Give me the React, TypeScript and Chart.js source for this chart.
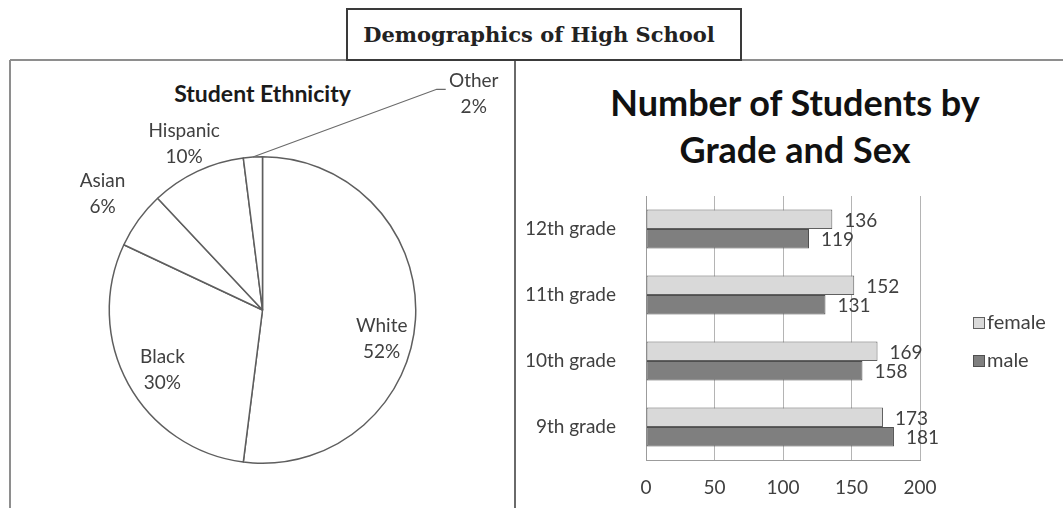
import React, { useEffect, useRef } from 'react';
import { Chart, registerables } from 'chart.js';

Chart.register(...registerables);

// Pie: student ethnicity (percent)
const ethnicities = ['White', 'Black', 'Asian', 'Hispanic', 'Other'];
const ethnicityShares = [52, 30, 6, 10, 2];

// Bars: number of students, top row first
const grades = ['12th grade', '11th grade', '10th grade', '9th grade'];
const femaleCounts = [136, 152, 169, 173];
const maleCounts = [119, 131, 158, 181];
const countTicks = [0, 50, 100, 150, 200];

const FONT = 'Lato, "Open Sans", sans-serif';
const TEXT = '#404040';

// where each pie label sits: radius factor and angle nudge (degrees) off the slice middle
const pieLabelSpots = [
  { r: 0.8, shift: 10, leader: false },
  { r: 0.76, shift: -2, leader: false },
  { r: 1.29, shift: 0, leader: false },
  { r: 1.2, shift: 0, leader: false },
  { r: 1.97, shift: 48, leader: true },
];

const pieLabelsPlugin = {
  id: 'pieLabels',
  afterDatasetsDraw(chart: any) {
    const { ctx } = chart;
    const meta = chart.getDatasetMeta(0);
    ctx.save();
    ctx.font = `19px ${FONT}`;
    ctx.fillStyle = TEXT;
    ctx.strokeStyle = '#6a6a6a';
    ctx.lineWidth = 1.2;
    ctx.textAlign = 'center';
    ctx.textBaseline = 'middle';
    meta.data.forEach((arc: any, i: number) => {
      const { x, y, startAngle, endAngle, outerRadius } = arc.getProps(
        ['x', 'y', 'startAngle', 'endAngle', 'outerRadius'],
        true
      );
      const spot = pieLabelSpots[i];
      const mid = (startAngle + endAngle) / 2;
      const a = mid + (spot.shift * Math.PI) / 180;
      const lx = x + Math.cos(a) * outerRadius * spot.r;
      const ly = y + Math.sin(a) * outerRadius * spot.r;
      if (spot.leader) {
        ctx.beginPath();
        ctx.moveTo(x + Math.cos(mid) * outerRadius, y + Math.sin(mid) * outerRadius);
        ctx.lineTo(lx - 37, ly - 5);
        ctx.lineTo(lx - 28, ly - 5);
        ctx.stroke();
      }
      ctx.fillText(chart.data.labels[i], lx, ly - 13);
      ctx.fillText(`${chart.data.datasets[0].data[i]}%`, lx, ly + 13);
    });
    ctx.restore();
  },
};

const barValuesPlugin = {
  id: 'barValues',
  afterDatasetsDraw(chart: any) {
    const { ctx } = chart;
    ctx.save();
    ctx.font = `19px ${FONT}`;
    ctx.fillStyle = TEXT;
    ctx.textAlign = 'left';
    ctx.textBaseline = 'middle';
    chart.data.datasets.forEach((ds: any, d: number) => {
      chart.getDatasetMeta(d).data.forEach((bar: any, i: number) => {
        ctx.fillText(String(ds.data[i]), bar.x + 12, bar.y + 1.5);
      });
    });
    ctx.restore();
  },
};

const sideLegendPlugin = {
  id: 'sideLegend',
  afterDraw(chart: any) {
    const { ctx, chartArea } = chart;
    const x = chartArea.right + 53;
    let y = (chartArea.top + chartArea.bottom) / 2 - 5;
    ctx.save();
    ctx.font = `20px ${FONT}`;
    ctx.textAlign = 'left';
    ctx.textBaseline = 'middle';
    chart.data.datasets.forEach((ds: any) => {
      ctx.fillStyle = ds.backgroundColor;
      ctx.fillRect(x, y - 6, 12, 12);
      ctx.strokeStyle = ds.borderColor;
      ctx.lineWidth = 1;
      ctx.strokeRect(x + 0.5, y - 5.5, 11, 11);
      ctx.fillStyle = TEXT;
      ctx.fillText(ds.label, x + 14, y);
      y += 38;
    });
    ctx.restore();
  },
};

const EthnicityPie: React.FC = () => {
  const canvasRef = useRef<HTMLCanvasElement>(null);

  useEffect(() => {
    if (!canvasRef.current) return;
    const chart = new Chart(canvasRef.current, {
      type: 'pie',
      data: {
        labels: ethnicities,
        datasets: [
          {
            data: ethnicityShares,
            backgroundColor: '#ffffff',
            borderColor: '#5e5e5e',
            borderWidth: 1.5,
            hoverOffset: 0,
          },
        ],
      },
      plugins: [pieLabelsPlugin],
      options: {
        animation: false,
        responsive: true,
        maintainAspectRatio: false,
        layout: { padding: { top: 94, bottom: 44 } },
        plugins: { legend: { display: false }, tooltip: { enabled: false } },
      },
    });
    return () => chart.destroy();
  }, []);

  return (
    <div style={{ position: 'absolute', left: 12, top: 62, width: 501, height: 446 }}>
      <canvas ref={canvasRef}></canvas>
    </div>
  );
};

const GradeBars: React.FC = () => {
  const canvasRef = useRef<HTMLCanvasElement>(null);

  useEffect(() => {
    if (!canvasRef.current) return;
    const tickFont = { family: FONT, size: 19 };
    const chart = new Chart(canvasRef.current, {
      type: 'bar',
      data: {
        labels: grades,
        datasets: [
          {
            label: 'female',
            data: femaleCounts,
            backgroundColor: '#d9d9d9',
            borderColor: '#606060',
            borderWidth: 1,
            borderSkipped: false,
          },
          {
            label: 'male',
            data: maleCounts,
            backgroundColor: '#7f7f7f',
            borderColor: '#4f4f4f',
            borderWidth: 1,
            borderSkipped: false,
          },
        ],
      },
      plugins: [barValuesPlugin, sideLegendPlugin],
      options: {
        indexAxis: 'y',
        animation: false,
        responsive: true,
        maintainAspectRatio: false,
        layout: { padding: { top: 134, right: 143 } },
        datasets: { bar: { categoryPercentage: 0.59, barPercentage: 1 } },
        plugins: { legend: { display: false }, tooltip: { enabled: false } },
        scales: {
          x: {
            min: countTicks[0],
            max: countTicks[countTicks.length - 1],
            ticks: { stepSize: countTicks[1] - countTicks[0], padding: 16, color: TEXT, font: tickFont },
            grid: { color: '#b4b4b4', drawTicks: false },
            border: { color: '#9c9c9c' },
            afterFit: (s: any) => {
              s.height = 48;
            },
          },
          y: {
            grid: { display: false },
            border: { color: '#9c9c9c' },
            ticks: { padding: 22, color: TEXT, font: tickFont },
            afterFit: (s: any) => {
              s.width = 119;
            },
          },
        },
      },
    });
    return () => chart.destroy();
  }, []);

  return (
    <div style={{ position: 'absolute', left: 527, top: 62, width: 536, height: 446 }}>
      <canvas ref={canvasRef}></canvas>
    </div>
  );
};

export default function App() {
  return (
    <div
      style={{
        position: 'fixed',
        left: 0,
        top: 0,
        width: 1063,
        height: 508,
        background: '#ffffff',
        overflow: 'hidden',
        fontFamily: FONT,
      }}
    >
      {/* panel frame */}
      <div style={{ position: 'absolute', left: 10, top: 59, width: 1053, height: 2, background: '#8e8e8e' }} />
      <div style={{ position: 'absolute', left: 9, top: 60, width: 2, height: 448, background: '#8e8e8e' }} />
      <div style={{ position: 'absolute', left: 514, top: 60, width: 2, height: 448, background: '#6a6a6a' }} />

      <div
        style={{
          position: 'absolute',
          left: 346,
          top: 8,
          width: 396,
          height: 53,
          boxSizing: 'border-box',
          border: '2px solid #3a3a3a',
          background: '#ffffff',
          display: 'flex',
          alignItems: 'center',
          justifyContent: 'center',
          paddingRight: 10,
          fontFamily: '"DejaVu Serif", "Liberation Serif", serif',
          fontWeight: 'bold',
          fontSize: 21,
          color: '#222',
        }}
      >
        Demographics of High School
      </div>

      <div
        style={{
          position: 'absolute',
          left: 12,
          top: 79,
          width: 501,
          textAlign: 'center',
          fontWeight: 'bold',
          fontSize: 23,
          lineHeight: '28px',
          color: '#1a1a1a',
        }}
      >
        Student Ethnicity
      </div>

      <div
        style={{
          position: 'absolute',
          left: 527,
          top: 79,
          width: 536,
          textAlign: 'center',
          fontWeight: 'bold',
          fontSize: 36,
          lineHeight: '47px',
          color: '#111',
        }}
      >
        Number of Students by
        <br />
        Grade and Sex
      </div>

      <EthnicityPie />
      <GradeBars />
    </div>
  );
}
